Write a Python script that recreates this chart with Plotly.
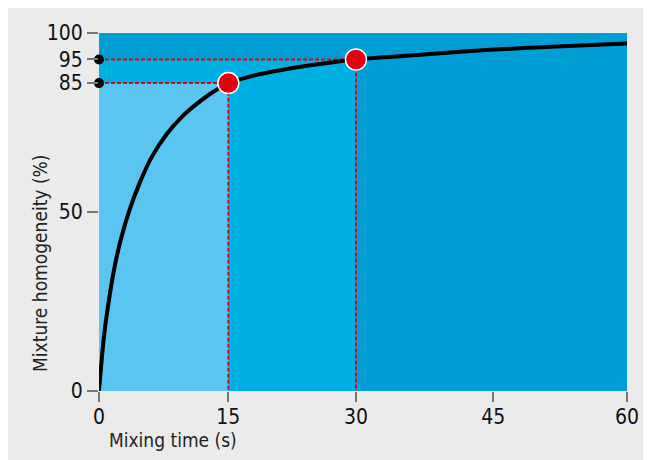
import plotly.graph_objects as go

# Curve (x and y in axis display units: linear positions on the drawn axes)
mix_time = [0, 0.6, 1.2, 1.8, 2.5, 3.5, 4.6, 6.0, 7.7, 9.5, 11, 13, 14.7, 17.9, 21.7, 25.5, 29.2, 36.9, 44.4, 52, 60]
homogeneity = [0, 16, 26.5, 35, 42.5, 50.8, 58, 65.4, 71.8, 76.8, 80, 83.6, 85.9, 88.3, 90.1, 91.5, 92.6, 94, 95.3, 96.2, 97.1]

# Highlighted points (15 s -> 85 %, 30 s -> 95 %)
point_time = [14.7, 29.2]
point_level = [86, 92.6]

# Axis ticks (positions on the drawn axes and their labels)
x_tick_pos = [0, 14.7, 29.2, 44.8, 60]
x_tick_text = ["0", "15", "30", "45", "60"]
y_tick_pos = [0, 50, 86, 92.6, 100]
y_tick_text = ["0", "50", "85", "95", "100"]

LIGHT = "#5bc5f2"
MID = "#00b0e2"
DARK = "#009ed4"
RED = "#e3000f"

fig = go.Figure()

# background zones
fig.add_shape(type="rect", xref="x", yref="y", x0=0, x1=point_time[1], y0=0, y1=point_level[1],
              fillcolor=MID, line_width=0, layer="below")
fig.add_shape(type="rect", xref="x", yref="y", x0=0, x1=point_time[0], y0=0, y1=point_level[0],
              fillcolor=LIGHT, line_width=0, layer="below")

# dashed guide lines
for t, lv in zip(point_time, point_level):
    fig.add_trace(go.Scatter(x=[0, t, t], y=[lv, lv, 0], mode="lines",
                             line=dict(color=RED, width=2, dash="4px,2px"),
                             hoverinfo="skip", showlegend=False))

# curve
fig.add_trace(go.Scatter(x=mix_time, y=homogeneity, mode="lines",
                         line=dict(color="black", width=4, shape="spline", smoothing=0.8),
                         showlegend=False, cliponaxis=False))

# black dots on axis
fig.add_trace(go.Scatter(x=[0] * len(point_level), y=point_level, mode="markers",
                         marker=dict(color="black", size=10), cliponaxis=False, showlegend=False))

# red points
fig.add_trace(go.Scatter(x=point_time, y=point_level, mode="markers",
                         marker=dict(color=RED, size=21, line=dict(color="white", width=1.5)),
                         cliponaxis=False, showlegend=False))

tick_font = dict(family="DejaVu Sans Condensed, Liberation Sans Narrow, sans-serif", size=21, color="#111111")
title_font = dict(family="DejaVu Sans Condensed, Liberation Sans, sans-serif", size=19, color="#222222")

fig.update_layout(
    width=643, height=452,
    margin=dict(l=91, r=24, t=25, b=69),
    paper_bgcolor="#ebebeb",
    plot_bgcolor=DARK,
    xaxis=dict(range=[0, 60], tickvals=x_tick_pos, ticktext=x_tick_text, ticks="outside",
               ticklen=10, tickwidth=2, tickcolor="#777777", showgrid=False, zeroline=False,
               showline=False, tickfont=tick_font, ticklabelstandoff=-3, fixedrange=True),
    yaxis=dict(range=[0, 100], tickvals=y_tick_pos, ticktext=y_tick_text, ticks="outside",
               ticklen=11, tickwidth=2, tickcolor="#777777", showgrid=False, zeroline=False,
               showline=False, tickfont=tick_font, fixedrange=True),
    annotations=[
        dict(text="Mixing time (s)", xref="paper", yref="paper", x=0, y=0,
             xanchor="left", yanchor="middle", xshift=8, yshift=-49, showarrow=False,
             font=title_font),
        dict(text="Mixture homogeneity (%)", xref="paper", yref="paper", x=0, y=0.355,
             xanchor="center", yanchor="middle", xshift=-59, textangle=-90, showarrow=False,
             font=title_font),
    ],
)

fig.write_html("out.html")
